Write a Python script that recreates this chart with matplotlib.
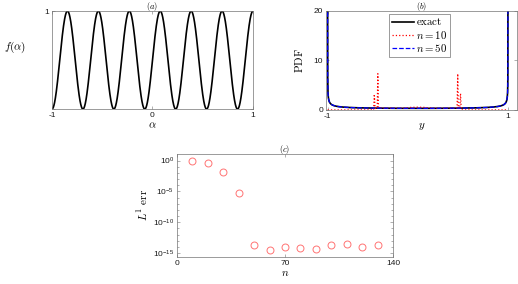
import numpy as np
import matplotlib
matplotlib.use("Agg")
import matplotlib.pyplot as plt
from matplotlib.ticker import FixedLocator, NullFormatter

plt.rcParams['mathtext.fontset'] = 'cm'
plt.rcParams['font.family'] = ['Liberation Sans', 'DejaVu Sans']

# (a) f(alpha): 6.5 periods of sin^2 over [-1, 1]
n_periods = 6.5
alpha = np.linspace(-1, 1, 1500)
f_alpha = np.sin(np.pi * n_periods * (alpha + 1) / 2) ** 2

# (b) PDF of y: exact (arcsine), n=50 overlaps it, n=10
y_grid = np.concatenate([[-0.99995], np.linspace(-0.9998, 0.9998, 2000), [0.99995]])
pdf_exact = 1.0 / (np.pi * np.sqrt(1 - y_grid ** 2))
y_n10 = [-1.0, -0.49, -0.482, -0.474, -0.45, -0.443, -0.436, -0.2, -0.14,
         -0.08, 0.0, 0.08, 0.14, 0.2, 0.436, 0.443, 0.45, 0.465, 0.474,
         0.482, 1.0]
pdf_n10 = [0.0, 0.0, 3.2, 0.3, 0.3, 7.3, 0.4, 0.33, 0.4, 0.5, 0.55, 0.5,
           0.4, 0.33, 0.4, 7.3, 0.3, 0.3, 3.3, 0.0, 0.0]

# (c) L1 error vs n
n_vals = [10, 20, 30, 40, 50, 60, 70, 80, 90, 100, 110, 120, 130]
log_err = [-0.05, -0.32, -1.78, -5.3, -13.68, -14.49, -14.05, -14.2,
           -14.38, -13.78, -13.57, -14.05, -13.68]
l1_err = [10 ** v for v in log_err]

axis_gray = '0.45'
tick_fs = 6
label_fs = 8


def style_axes(ax):
    for s in ax.spines.values():
        s.set_color(axis_gray)
        s.set_linewidth(0.5)
    ax.tick_params(direction='in', length=2, width=0.4, colors=axis_gray,
                   labelcolor='0.1', labelsize=tick_fs, top=True, right=True,
                   pad=2)
    ax.tick_params(which='minor', direction='in', length=1.2, width=0.4,
                   colors=axis_gray, top=False, right=True)


fig = plt.figure(figsize=(5.18, 2.84), dpi=100)

# (a)
ax1 = fig.add_axes([0.1004, 0.616, 0.388, 0.345])
ax1.plot(alpha, f_alpha, color='k', lw=1.2)
ax1.set_xlim(-1, 1)
ax1.set_ylim(0, 1)
ax1.set_xticks([-1, 0, 1])
ax1.set_xticklabels(['-1', '0', '1'])
ax1.set_yticks([0, 1])
ax1.set_yticklabels(['', '1'])
style_axes(ax1)
ax1.set_title(r'$(a)$', fontsize=6, pad=1.5)
ax1.set_xlabel(r'$\alpha$', fontsize=label_fs, labelpad=1)
ax1.set_ylabel(r'$f(\alpha)$', fontsize=label_fs, rotation=0, labelpad=0)
ax1.yaxis.set_label_coords(-0.185, 0.55)

# (b)
ax2 = fig.add_axes([0.629, 0.613, 0.369, 0.349])
ax2.plot(y_grid, pdf_exact, color='k', lw=1.2, label=r'$\mathrm{exact}$')
ax2.plot(y_n10, pdf_n10, color='r', lw=0.9, ls=':', label=r'$n=10$')
ax2.plot(y_grid, pdf_exact, color='b', lw=0.9, ls='--', label=r'$n=50$')
ax2.set_xlim(-1.02, 1.1)
ax2.set_ylim(0, 20)
ax2.set_xticks([-1, 1])
ax2.set_xticklabels(['-1', '1'])
ax2.set_yticks([0, 10, 20])
style_axes(ax2)
ax2.set_title(r'$(b)$', fontsize=6, pad=1.5)
ax2.set_xlabel(r'$y$', fontsize=label_fs, labelpad=1)
ax2.set_ylabel(r'$\mathrm{PDF}$', fontsize=label_fs, labelpad=6)
leg = ax2.legend(loc='upper center', bbox_to_anchor=(0.49, 0.97), fontsize=7.8,
                 handlelength=2.0, handletextpad=0.2, borderpad=0.25,
                 labelspacing=0.12, borderaxespad=0, fancybox=False,
                 framealpha=1)
leg.get_frame().set_edgecolor(axis_gray)
leg.get_frame().set_linewidth(0.5)

# (c)
ax3 = fig.add_axes([0.3417, 0.095, 0.417, 0.363])
ax3.semilogy(n_vals, l1_err, 'o', mfc='none', mec=(1, 0.45, 0.45),
             ms=5, mew=0.7)
ax3.set_xlim(0, 140)
ax3.set_ylim(10 ** -15.65, 10 ** 1.08)
ax3.set_xticks([0, 70, 140])
ax3.yaxis.set_major_locator(FixedLocator([1e-15, 1e-10, 1e-5, 1e0]))
ax3.set_yticklabels([r'$\mathregular{10^{-15}}$', r'$\mathregular{10^{-10}}$',
                     r'$\mathregular{10^{-5}}$', r'$\mathregular{10^{0}}$'])
ax3.yaxis.set_minor_locator(FixedLocator([10.0 ** k for k in range(-15, 1)]))
ax3.yaxis.set_minor_formatter(NullFormatter())
style_axes(ax3)
ax3.set_title(r'$(c)$', fontsize=6, pad=1.5)
ax3.set_xlabel(r'$n$', fontsize=label_fs, labelpad=1)
ax3.set_ylabel(r'$L^1\ \mathrm{err}$', fontsize=label_fs, labelpad=2)

fig.savefig('out.png', dpi=100)
